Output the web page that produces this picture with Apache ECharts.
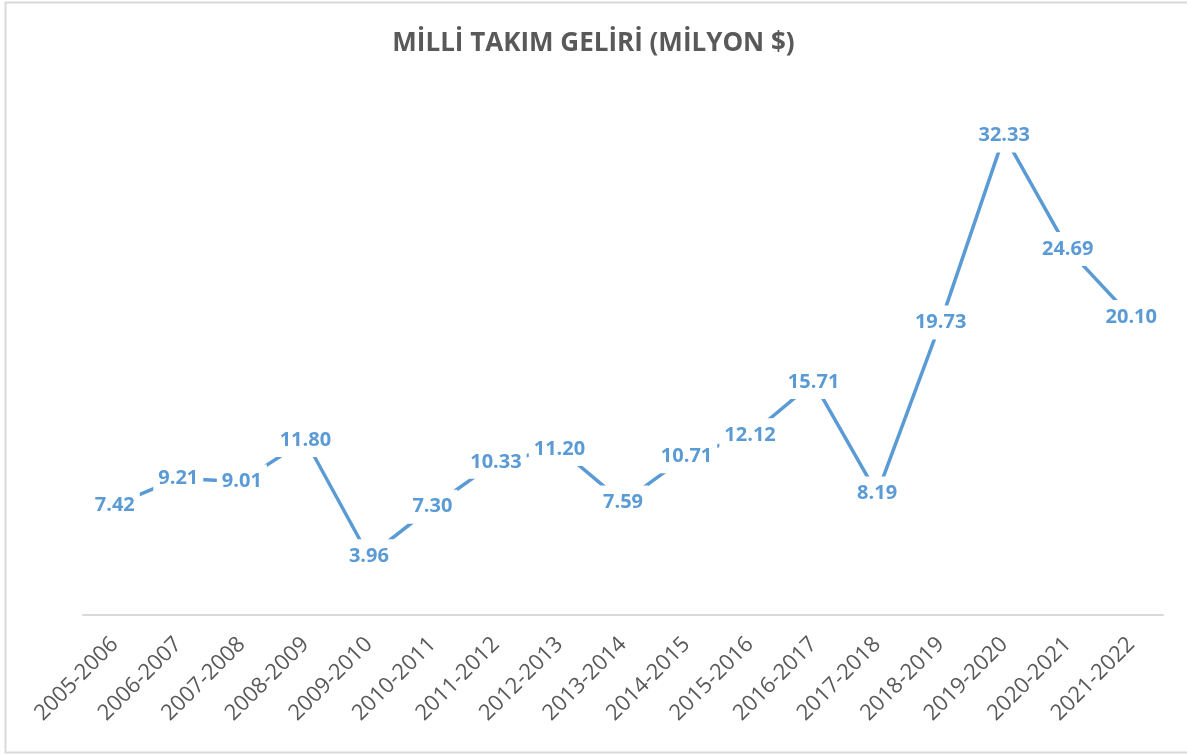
<!DOCTYPE html>
<html>
<head>
<meta charset="utf-8">
<script src="https://cdn.jsdelivr.net/npm/echarts@6/dist/echarts.min.js"></script>
<style>
  html, body { margin: 0; padding: 0; background: #fff; }
  #chart { width: 1187px; height: 755px; }
</style>
</head>
<body>
<div id="chart"></div>
<script>
// sezonlar
const seasons = ['2005-2006', '2006-2007', '2007-2008', '2008-2009', '2009-2010', '2010-2011',
  '2011-2012', '2012-2013', '2013-2014', '2014-2015', '2015-2016', '2016-2017',
  '2017-2018', '2018-2019', '2019-2020', '2020-2021', '2021-2022'];
// gelir (milyon $)
const income = [7.42, 9.21, 9.01, 11.80, 3.96, 7.30, 10.33, 11.20, 7.59, 10.71, 12.12, 15.71,
  8.19, 19.73, 32.33, 24.69, 20.10];

const blue = '#5b9bd5';
const gray = '#595959';

let chart = echarts.init(document.getElementById('chart'));
chart.setOption({
  animation: false,
  backgroundColor: '#fff',
  title: {
    text: 'MİLLİ TAKIM GELİRİ (MİLYON $)',
    left: 'center',
    top: 26,
    textStyle: {
      fontFamily: 'Open Sans',
      fontWeight: 'bold',
      fontSize: 26,
      color: gray
    }
  },
  graphic: [{
    type: 'rect',
    shape: { x: 5.5, y: 2.5, width: 1190, height: 750 },
    style: { fill: 'none', stroke: '#d9d9d9', lineWidth: 2 },
    silent: true
  }],
  grid: {
    left: 83,
    right: 24,
    top: 96,
    bottom: 140
  },
  xAxis: {
    type: 'category',
    data: seasons,
    axisLine: { lineStyle: { color: '#d9d9d9', width: 2 } },
    axisTick: { show: false },
    axisLabel: {
      rotate: 45,
      interval: 0,
      margin: 26,
      fontFamily: 'Open Sans',
      fontSize: 22,
      color: gray
    }
  },
  yAxis: {
    type: 'value',
    min: 0,
    max: 35,
    show: false,
    splitLine: { show: false }
  },
  series: [{
    type: 'line',
    data: income,
    symbol: 'circle',
    symbolSize: 1,
    itemStyle: { color: 'rgba(0,0,0,0)' },
    lineStyle: { color: blue, width: 3.5 },
    label: {
      show: true,
      position: 'inside',
      formatter: (p) => p.value.toFixed(2),
      fontFamily: 'Open Sans',
      fontWeight: 'bold',
      fontSize: 20,
      color: blue,
      backgroundColor: '#fff',
      padding: [7, 5]
    },
    z: 3
  }]
});
</script>
</body>
</html>
